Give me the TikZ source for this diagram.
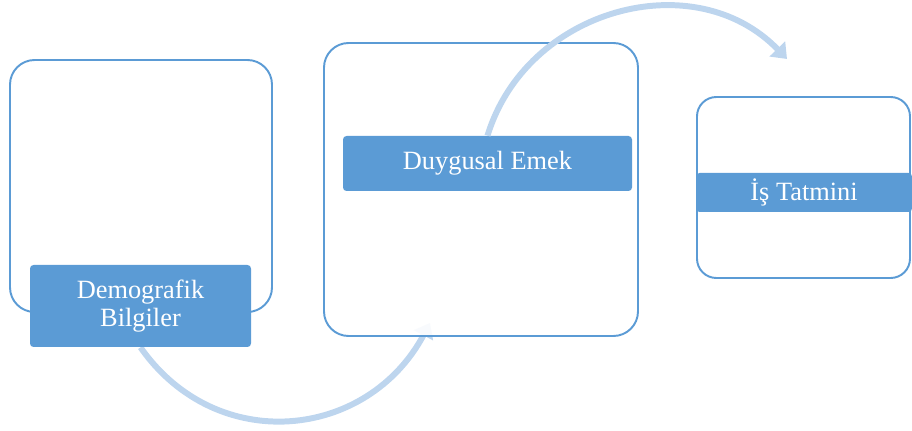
\documentclass[tikz,border=0pt]{standalone}
\usepackage{fontspec}
\setmainfont{Liberation Serif}
\usepackage{xcolor}
\definecolor{Frame}{HTML}{5B9BD5}
\definecolor{Tag}{HTML}{5B9BD5}
\definecolor{Flow}{HTML}{BDD5EE}
\usetikzlibrary{arrows.meta,backgrounds}

\begin{document}
\begin{tikzpicture}[
  panel/.style={draw=Frame,fill=white,fill opacity=0.9,line width=1.1pt,rounded corners=14pt,inner sep=0pt},
  tag/.style={fill=Tag,rounded corners=2pt,text=white,align=center,inner sep=0pt,font=\fontsize{15}{16}\selectfont},
  flow/.style={-{Triangle[length=0.28cm,width=0.42cm]},draw=Flow,line width=3.4pt}
]
  \useasboundingbox (0,0) rectangle (18.24,8.6);
  % panels
  \node[panel,minimum width=5.24cm,minimum height=5.04cm] (demo) at (2.82,4.88) {};
  \node[panel,minimum width=6.28cm,minimum height=5.86cm] (emek) at (9.62,4.81) {};
  \node[panel,rounded corners=11pt,minimum width=4.26cm,minimum height=3.62cm] (tatmin) at (16.07,4.85) {};

  % labels
  \node[tag,minimum width=4.42cm,minimum height=1.64cm] (demotag) at (2.81,2.48) {Demografik\\Bilgiler};
  \node[tag,minimum width=5.78cm,minimum height=1.10cm] (emektag) at (9.75,5.33) {Duygusal Emek};
  \node[tag,minimum width=4.32cm,minimum height=0.78cm] (tatmintag) at (16.08,4.75) {İş Tatmini};

  \coordinate (tip) at (15.74,7.42);

  \begin{pgfonlayer}{background}
    \draw[flow] (demotag.south) to[out=-55,in=-118,looseness=1.17] ([xshift=-1.02cm,yshift=0.28cm]emek.south);
  \end{pgfonlayer}
  \draw[flow] (emektag.north) to[out=73,in=134,looseness=1.1] (tip);
\end{tikzpicture}
\end{document}
